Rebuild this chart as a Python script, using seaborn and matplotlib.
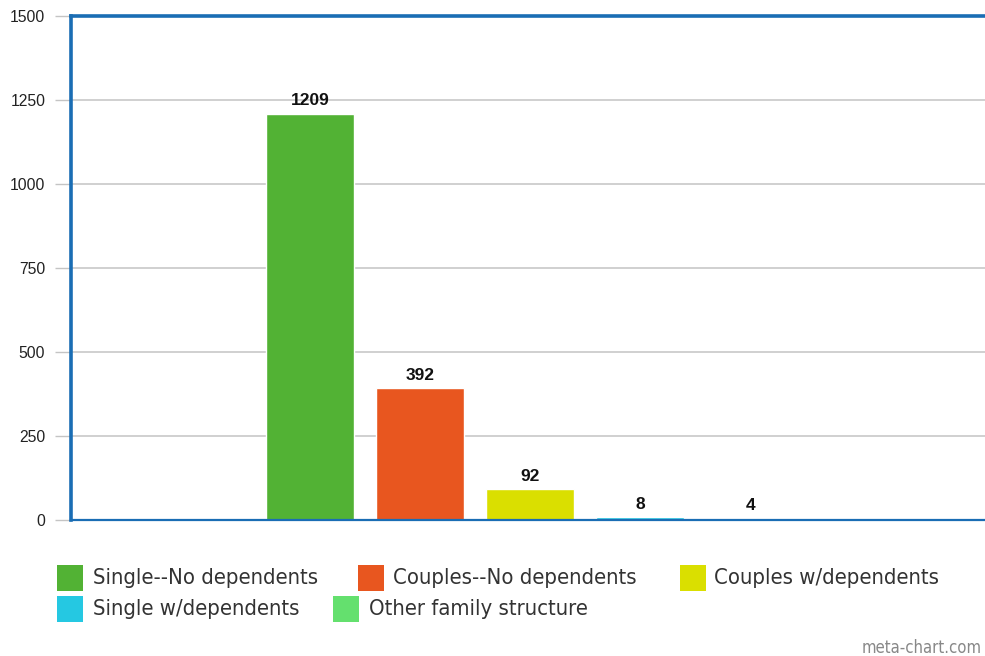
import matplotlib
matplotlib.use("Agg")
import matplotlib.pyplot as plt
from matplotlib.patches import Rectangle
import seaborn as sns
import pandas as pd

categories = ["Single--No dependents", "Couples--No dependents", "Couples w/dependents",
              "Single w/dependents", "Other family structure"]
values = [1209, 392, 92, 8, 4]
colors = ["#52b234", "#e8561f", "#dadf00", "#25c8e2", "#64e06e"]
yticks = [0, 250, 500, 750, 1000, 1250, 1500]

df = pd.DataFrame({"category": categories, "value": values})

sns.set_theme(style="white")
plt.rcParams["font.family"] = ["Liberation Sans", "DejaVu Sans"]

fig = plt.figure(figsize=(9.85, 6.56), dpi=100)
W, H = 985, 656
ax = fig.add_axes([71 / W, 1 - 520 / H, (989 - 71) / W, (520 - 16) / H])

sns.barplot(data=df, x="category", y="value", hue="category", palette=colors,
            order=categories, hue_order=categories, dodge=False, legend=False,
            width=0.8, saturation=1, ax=ax)

ax.set_xlim(2 - 4.17, 2 + 4.17)
ax.set_ylim(0, 1500)
ax.set_yticks(yticks)
ax.set_yticklabels([str(t) for t in yticks], fontsize=11.3, color="#222222")
ax.set_xticks([])
ax.set_xlabel("")
ax.set_ylabel("")
ax.yaxis.grid(True, color="#c4c4c4", linewidth=1.1)
ax.set_axisbelow(True)
ax.tick_params(axis="y", which="major", left=True, length=11.5, width=1,
               color="#c4c4c4", pad=7, direction="out")

blue = "#1a6db4"
for side, lw in [("left", 2.6), ("top", 2.6), ("right", 2.6), ("bottom", 1.6)]:
    ax.spines[side].set_visible(True)
    ax.spines[side].set_color(blue)
    ax.spines[side].set_linewidth(lw)

for i, v in enumerate(values):
    ax.annotate(str(v), xy=(i, v), xytext=(0, 6), textcoords="offset points",
                ha="center", va="baseline", fontsize=12.5, fontweight="bold", color="#111111")

# legend (flow layout)
legend_rows = [
    [(57, 93, 0), (358, 393, 1), (680, 714, 2)],
    [(57, 93, 3), (333, 369, 4)],
]
row_y = [578, 609]
for r, row in enumerate(legend_rows):
    yc = row_y[r]
    for sx, tx, idx in row:
        fig.patches.append(Rectangle((sx / W, 1 - (yc + 13) / H), 26 / W, 26 / H,
                                     transform=fig.transFigure, facecolor=colors[idx],
                                     edgecolor="none"))
        fig.text(tx / W, 1 - yc / H, categories[idx], fontsize=15.8, va="center", ha="left",
                 color="#333333", family=["DejaVu Sans"], fontstretch="condensed")

fig.text(982 / W, 1 - 648 / H, "meta-chart.com", fontsize=12, color="#888888",
         ha="right", va="center", family=["DejaVu Sans"], fontstretch="condensed")

fig.savefig("out.png", dpi=100, facecolor="white")
